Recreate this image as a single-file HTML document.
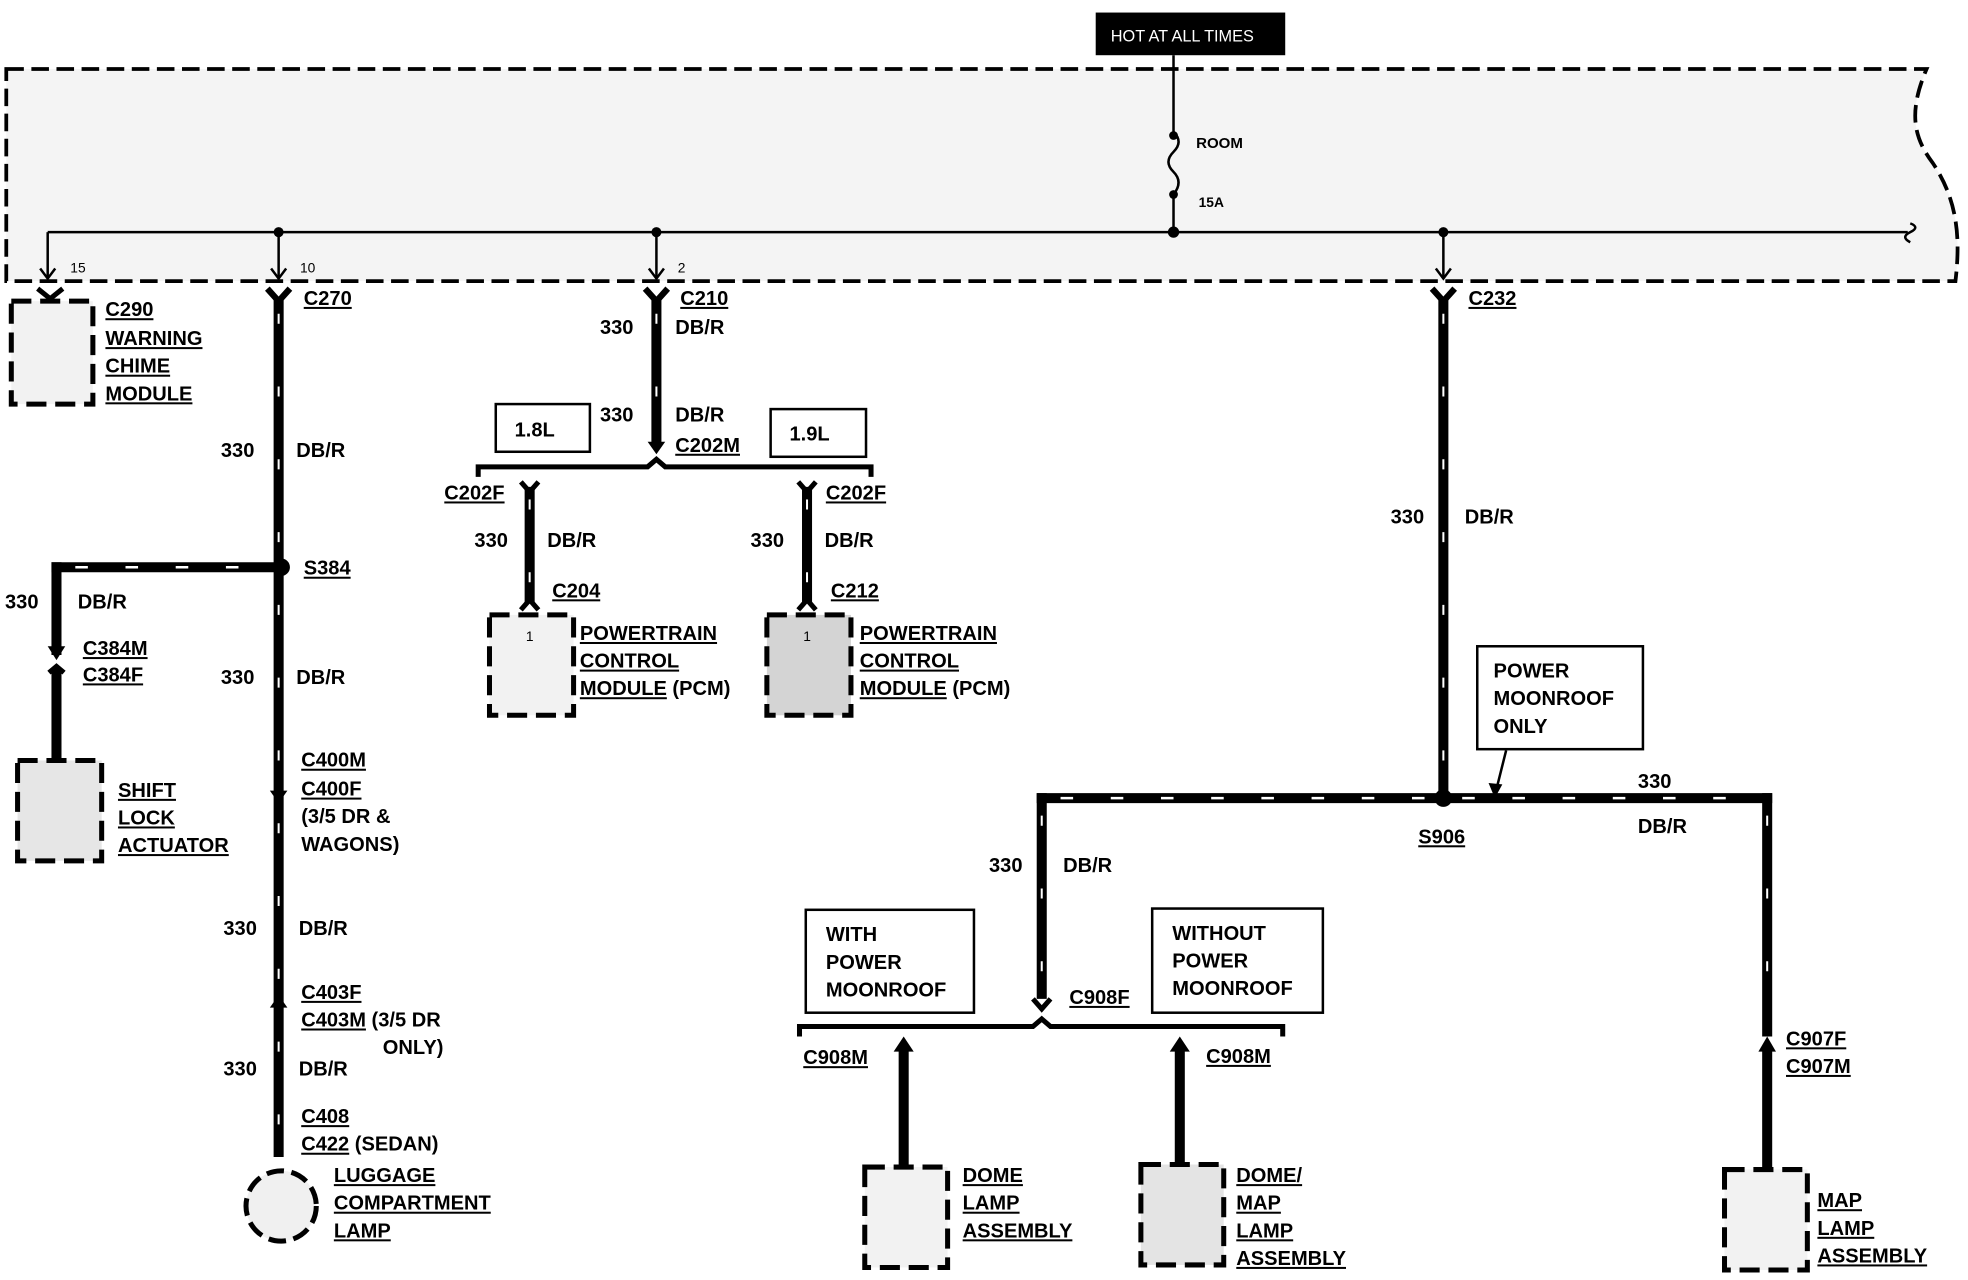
<!DOCTYPE html>
<html><head><meta charset="utf-8"><style>
html,body{margin:0;padding:0;background:#fff;width:1968px;height:1280px;overflow:hidden}
svg{display:block}
text{font-family:"Liberation Sans",Arial,sans-serif;font-weight:bold;font-size:16px;fill:#000}
.u{text-decoration:underline}
.w{stroke:#000;stroke-width:8;fill:none}
.wd{stroke:#fff;stroke-width:1.6;stroke-dasharray:8 50;fill:none}
.hd{stroke:#fff;stroke-width:2;stroke-dasharray:10 30;fill:none}
.box{fill:#fff;stroke:#000;stroke-width:2}
.db{fill:#f2f2f2;stroke:#000;stroke-width:4;stroke-dasharray:16 7}
.t{stroke:#000;stroke-width:2;fill:none}
</style></head><body>
<svg width="1968" height="1280" viewBox="0 0 1568 1020" preserveAspectRatio="none" xmlns="http://www.w3.org/2000/svg">
<path d="M5,55 L1535,55 C1520,90 1525,110 1540,130 C1560,160 1562,190 1558,224 L5,224 Z" fill="#f4f4f4" stroke="#000" stroke-width="3" stroke-dasharray="14 6"/>
<rect x="873" y="10" width="151" height="34" fill="#000"/>
<text x="885" y="33" style="fill:#fff;font-weight:normal;font-size:13px">HOT AT ALL TIMES</text>
<line class="t" x1="935" y1="44" x2="935" y2="105"/>
<path class="t" d="M935,105 q8,8 0,16 q-8,8 0,16 q8,8 0,18"/>
<circle cx="935" cy="108" r="3.5"/><circle cx="935" cy="155" r="3.5"/>
<line class="t" x1="935" y1="155" x2="935" y2="185"/>
<text x="953" y="118" style="font-size:12px">ROOM</text>
<text x="955" y="165" style="font-size:11px">15A</text>
<line class="t" x1="38" y1="185" x2="1520" y2="185"/>
<path class="t" d="M1522,178 q8,3 0,7 q-8,4 0,8"/>
<circle cx="222" cy="185" r="4"/><circle cx="523" cy="185" r="4"/><circle cx="935" cy="185" r="4.5"/><circle cx="1150" cy="185" r="4"/>
<g class="t">
<line x1="38" y1="185" x2="38" y2="222"/><path d="M32,214 L38,222 L44,214"/>
<line x1="222" y1="185" x2="222" y2="222"/><path d="M216,214 L222,222 L228,214"/>
<line x1="523" y1="185" x2="523" y2="222"/><path d="M517,214 L523,222 L529,214"/>
<line x1="1150" y1="185" x2="1150" y2="222"/><path d="M1144,214 L1150,222 L1156,214"/>
</g>
<text x="56" y="217" style="font-size:11px;font-weight:normal">15</text>
<text x="239" y="217" style="font-size:11px;font-weight:normal">10</text>
<text x="540" y="217" style="font-size:11px;font-weight:normal">2</text>

<rect class="db" x="9" y="240" width="65" height="82"/>
<path d="M30,230 L40,238 L50,230" class="w" style="stroke-width:4"/>
<text class="u" x="84" y="252">C290</text><text class="u" x="84" y="275">WARNING</text><text class="u" x="84" y="297">CHIME</text><text class="u" x="84" y="319">MODULE</text>

<path class="w" style="stroke-width:5" d="M213,230 L222,240 L231,230"/>
<line class="w" x1="222" y1="238" x2="222" y2="922"/>
<line class="wd" x1="222" y1="250" x2="222" y2="920"/>
<text class="u" x="242" y="243">C270</text>
<text x="176" y="364">330</text><text x="236" y="364">DB/R</text>
<circle cx="224" cy="452" r="7"/>
<text class="u" x="242" y="458">S384</text>
<line class="w" x1="41" y1="452" x2="222" y2="452"/>
<line class="hd" x1="60" y1="452" x2="200" y2="452"/>
<line class="w" x1="45" y1="448" x2="45" y2="522"/>
<path d="M38,515 L45,526 L52,515 Z"/>
<path class="w" style="stroke-width:4" d="M39,536 L45,531 L51,536"/>
<line class="w" x1="45" y1="533" x2="45" y2="608"/>
<text x="4" y="485">330</text><text x="62" y="485">DB/R</text>
<text class="u" x="66" y="522">C384M</text><text class="u" x="66" y="543">C384F</text>
<rect class="db" x="14" y="606" width="67" height="80" style="fill:#e6e6e6"/>
<text class="u" x="94" y="635">SHIFT</text><text class="u" x="94" y="657">LOCK</text><text class="u" x="94" y="679">ACTUATOR</text>
<text x="176" y="545">330</text><text x="236" y="545">DB/R</text>
<path d="M215,630 L222,640 L229,630 Z"/>
<text class="u" x="240" y="611">C400M</text><text class="u" x="240" y="634">C400F</text><text x="240" y="656">(3/5 DR &amp;</text><text x="240" y="678">WAGONS)</text>
<text x="178" y="745">330</text><text x="238" y="745">DB/R</text>
<path d="M215,803 L222,793 L229,803 Z"/>
<text class="u" x="240" y="796">C403F</text><text x="240" y="818"><tspan class="u">C403M</tspan> (3/5 DR</text><text x="305" y="840">ONLY)</text>
<text x="178" y="857">330</text><text x="238" y="857">DB/R</text>
<text class="u" x="240" y="895">C408</text><text x="240" y="917"><tspan class="u">C422</tspan> (SEDAN)</text>
<circle cx="224" cy="961" r="28" fill="#f0f0f0" stroke="#000" stroke-width="4" stroke-dasharray="14 6"/>
<text class="u" x="266" y="942">LUGGAGE</text><text class="u" x="266" y="964">COMPARTMENT</text><text class="u" x="266" y="986">LAMP</text>

<path class="w" style="stroke-width:5" d="M514,230 L523,240 L532,230"/>
<line class="w" x1="523" y1="238" x2="523" y2="356"/>
<line class="wd" x1="523" y1="250" x2="523" y2="350"/>
<path d="M516,352 L523,362 L530,352 Z"/>
<text class="u" x="542" y="243">C210</text>
<text x="478" y="266">330</text><text x="538" y="266">DB/R</text>
<text x="478" y="336">330</text><text x="538" y="336">DB/R</text>
<text class="u" x="538" y="360">C202M</text>
<rect class="box" x="395" y="322" width="75" height="38"/><text x="410" y="348">1.8L</text>
<rect class="box" x="614" y="326" width="76" height="38"/><text x="629" y="351">1.9L</text>
<path d="M381,380 L381,372 L516,372 L523,366 L530,372 L694,372 L694,380" stroke="#000" stroke-width="4" fill="none"/>
<path class="w" style="stroke-width:4" d="M415,384 L422,392 L429,384"/>
<line class="w" x1="422" y1="388" x2="422" y2="480"/><line class="wd" x1="422" y1="398" x2="422" y2="475"/>
<path class="w" style="stroke-width:4" d="M636,384 L643,392 L650,384"/>
<line class="w" x1="643" y1="388" x2="643" y2="480"/><line class="wd" x1="643" y1="398" x2="643" y2="475"/>
<path class="w" style="stroke-width:4" d="M415,486 L422,478 L429,486"/>
<path class="w" style="stroke-width:4" d="M636,486 L643,478 L650,486"/>
<text class="u" x="354" y="398">C202F</text><text class="u" x="658" y="398">C202F</text>
<text x="378" y="436">330</text><text x="436" y="436">DB/R</text>
<text x="598" y="436">330</text><text x="657" y="436">DB/R</text>
<text class="u" x="440" y="476">C204</text><text class="u" x="662" y="476">C212</text>
<rect class="db" x="390" y="490" width="67" height="80"/>
<rect class="db" x="611" y="490" width="67" height="80" style="fill:#d4d4d4"/>
<text x="419" y="511" style="font-size:11px;font-weight:normal">1</text><text x="640" y="511" style="font-size:11px;font-weight:normal">1</text>
<text class="u" x="462" y="510">POWERTRAIN</text><text class="u" x="462" y="532">CONTROL</text><text x="462" y="554"><tspan class="u">MODULE</tspan> (PCM)</text>
<text class="u" x="685" y="510">POWERTRAIN</text><text class="u" x="685" y="532">CONTROL</text><text x="685" y="554"><tspan class="u">MODULE</tspan> (PCM)</text>

<path class="w" style="stroke-width:5" d="M1141,230 L1150,240 L1159,230"/>
<line class="w" x1="1150" y1="238" x2="1150" y2="636"/>
<line class="wd" x1="1150" y1="250" x2="1150" y2="630"/>
<text class="u" x="1170" y="243">C232</text>
<text x="1108" y="417">330</text><text x="1167" y="417">DB/R</text>
<line class="w" x1="826" y1="636" x2="1412" y2="636"/>
<line class="hd" x1="845" y1="636" x2="1395" y2="636"/>
<circle cx="1150" cy="636" r="7"/>
<text class="u" x="1130" y="672">S906</text>
<line class="w" x1="830" y1="632" x2="830" y2="796"/><line class="wd" x1="830" y1="650" x2="830" y2="790"/>
<path class="w" style="stroke-width:4" d="M823,796 L830,804 L837,796"/>
<line class="w" x1="1408" y1="632" x2="1408" y2="826"/><line class="wd" x1="1408" y1="650" x2="1408" y2="820"/>
<rect class="box" x="1177" y="515" width="132" height="82"/>
<text x="1190" y="540">POWER</text><text x="1190" y="562">MOONROOF</text><text x="1190" y="584">ONLY</text>
<line class="t" x1="1200" y1="598" x2="1192" y2="630"/><path d="M1186,624 L1191,636 L1197,625 Z"/>
<text x="1305" y="628">330</text><text x="1305" y="664">DB/R</text>
<text x="788" y="695">330</text><text x="847" y="695">DB/R</text>
<text class="u" x="852" y="800">C908F</text>
<rect class="box" x="642" y="725" width="134" height="82"/>
<text x="658" y="750">WITH</text><text x="658" y="772">POWER</text><text x="658" y="794">MOONROOF</text>
<rect class="box" x="918" y="724" width="136" height="83"/>
<text x="934" y="749">WITHOUT</text><text x="934" y="771">POWER</text><text x="934" y="793">MOONROOF</text>
<path d="M637,826 L637,818 L823,818 L830,812 L837,818 L1022,818 L1022,826" stroke="#000" stroke-width="4" fill="none"/>
<text class="u" x="640" y="848">C908M</text><text class="u" x="961" y="847">C908M</text>
<line class="w" x1="720" y1="836" x2="720" y2="930"/><path d="M712,838 L720,826 L728,838 Z"/>
<line class="w" x1="940" y1="836" x2="940" y2="930"/><path d="M932,838 L940,826 L948,838 Z"/>
<path d="M1401,838 L1408,826 L1415,838 Z"/>
<line class="w" x1="1408" y1="836" x2="1408" y2="932"/>
<text class="u" x="1423" y="833">C907F</text><text class="u" x="1423" y="855">C907M</text>
<rect class="db" x="689" y="930" width="66" height="80"/>
<rect class="db" x="909" y="928" width="66" height="80" style="fill:#e4e4e4"/>
<rect class="db" x="1374" y="932" width="66" height="80"/>
<text class="u" x="767" y="942">DOME</text><text class="u" x="767" y="964">LAMP</text><text class="u" x="767" y="986">ASSEMBLY</text>
<text class="u" x="985" y="942">DOME/</text><text class="u" x="985" y="964">MAP</text><text class="u" x="985" y="986">LAMP</text><text class="u" x="985" y="1008">ASSEMBLY</text>
<text class="u" x="1448" y="962">MAP</text><text class="u" x="1448" y="984">LAMP</text><text class="u" x="1448" y="1006">ASSEMBLY</text>
</svg>
</body></html>
